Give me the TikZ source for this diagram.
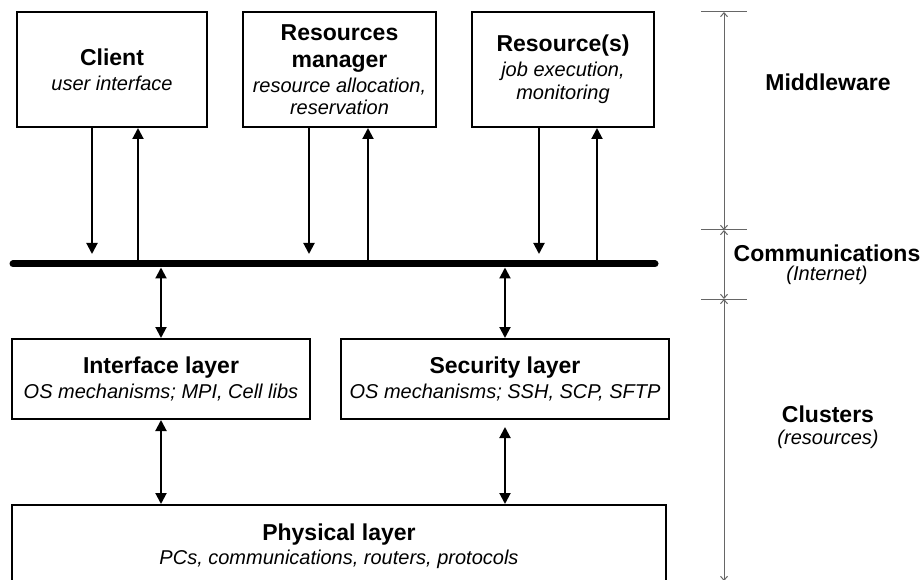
\documentclass[tikz,border=0pt]{standalone}
\usepackage{fontspec}
\setmainfont{Liberation Sans}
\usetikzlibrary{arrows.meta,calc}

\newcommand{\bigb}{\fontsize{23}{24}\selectfont\bfseries}
\newcommand{\smalli}{\fontsize{20}{24}\selectfont\itshape}

\begin{document}
\begin{tikzpicture}[x=1pt,y=-1pt,
    box/.style={draw,line width=2pt,align=center,inner sep=0pt,font=\fontsize{20}{24}\selectfont},
    lbl/.style={align=center,font=\fontsize{20}{24}\selectfont},
    flow/.style={line width=2pt,-{Triangle[length=11pt,width=11pt]}},
    dflow/.style={line width=2pt,{Triangle[length=11pt,width=11pt]}-{Triangle[length=11pt,width=11pt]}},
    dim/.style={draw=black!60,line width=1pt},
    dimarr/.style={dim,{Straight Barb[length=4pt,width=7pt]}-{Straight Barb[length=4pt,width=7pt]}}]
  \useasboundingbox (0,0) rectangle (924,580);

  % middleware boxes
  \node[box,minimum width=190pt,minimum height=115pt] (client) at (112,69.5)
    {{\bigb Client}\\[1pt]{\smalli user interface}};
  \node[box,minimum width=193pt,minimum height=115pt] (manager) at (339.5,69.5)
    {{\bigb Resources}\\[3pt]{\bigb manager}\\[1pt]{\smalli resource allocation,}\\[-2pt]{\smalli reservation}};
  \node[box,minimum width=182pt,minimum height=115pt] (res) at (563,69.5)
    {{\bigb Resource(s)}\\[1pt]{\smalli job execution,}\\[-1pt]{\smalli monitoring}};

  % communication bus
  \coordinate (busL) at (13,264);
  \coordinate (busR) at (655,264);
  \draw[line width=7pt,line cap=round] (busL) -- (busR);

  % cluster boxes
  \node[box,minimum width=298pt,minimum height=80pt] (iface) at (161,379)
    {{\bigb Interface layer}\\[1pt]{\smalli OS mechanisms; MPI, Cell libs}};
  \node[box,minimum width=328pt,minimum height=80pt] (secur) at (505,379)
    {{\bigb Security layer}\\[1pt]{\smalli OS mechanisms; SSH, SCP, SFTP}};
  \node[box,minimum width=654pt,minimum height=83pt] (phys) at (339,546.5)
    {{\bigb Physical layer}\\{\smalli PCs, communications, routers, protocols}};

  % boxes <-> bus
  \draw[flow,shorten >=10pt] ($(client.south)+(-20,0)$) -- ($(client.south |- busL)+(-20,0)$);
  \draw[flow] ($(client.south |- busL)+(26,0)$) -- ($(client.south)+(26,0)$);
  \draw[flow,shorten >=10pt] ($(manager.south)+(-30.5,0)$) -- ($(manager.south |- busL)+(-30.5,0)$);
  \draw[flow] ($(manager.south |- busL)+(28.5,0)$) -- ($(manager.south)+(28.5,0)$);
  \draw[flow,shorten >=10pt] ($(res.south)+(-24,0)$) -- ($(res.south |- busL)+(-24,0)$);
  \draw[flow] ($(res.south |- busL)+(34,0)$) -- ($(res.south)+(34,0)$);

  \draw[dflow,shorten <=3.5pt] (iface.north |- busL) -- (iface.north);
  \draw[dflow,shorten <=3.5pt] (secur.north |- busL) -- (secur.north);
  \draw[dflow] (iface.south) -- (iface.south |- phys.north);
  \draw[dflow,shorten <=7pt] (secur.south) -- (secur.south |- phys.north);

  % levels on the right
  \coordinate (mtop) at (724,12);
  \coordinate (mcom) at (724,230);
  \coordinate (mclu) at (724,299);
  \coordinate (mbot) at (724,581);
  \foreach \y in {12,230,299,581}
    \draw[dim] (701,\y) -- (747,\y);
  \draw[dimarr] (mtop) -- (mcom);
  \draw[dimarr] (mcom) -- (mclu);
  \draw[dimarr] (mclu) -- (mbot);

  \node[lbl] (mware) at (828,82) {\bigb Middleware};
  \node[lbl] (comms) at (827,265) {{\bigb Communications}\\[-5pt]{\smalli (Internet)}};
  \node[lbl] (clust) at (828,427.5) {{\bigb Clusters}\\[-2pt]{\smalli (resources)}};
\end{tikzpicture}
\end{document}
